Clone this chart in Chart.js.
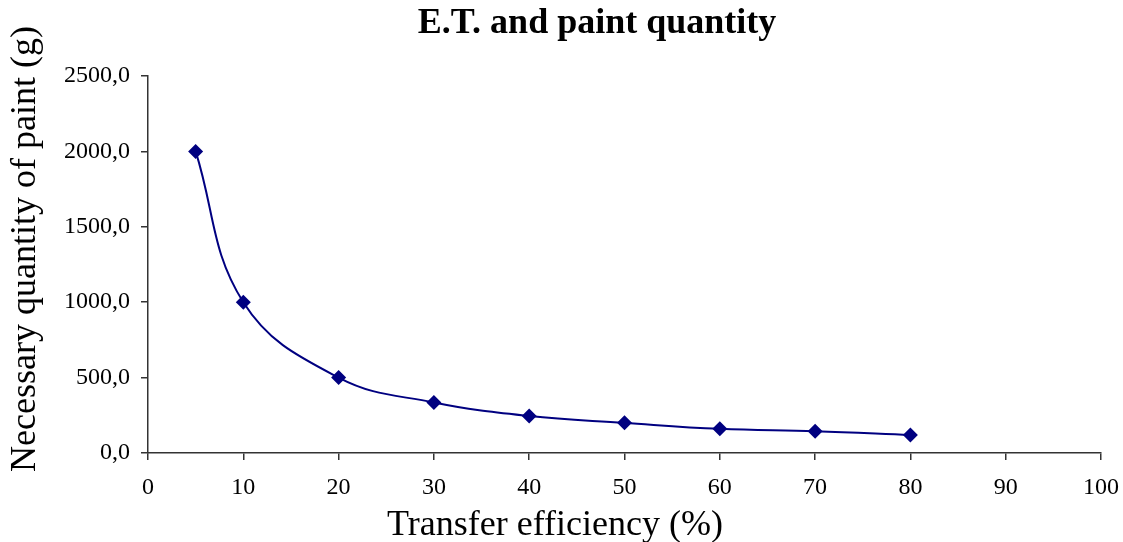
<!DOCTYPE html>
<html>
<head>
<meta charset="utf-8">
<script src="https://cdn.jsdelivr.net/npm/chart.js@4/dist/chart.umd.min.js"></script>
<style>
  html, body { margin: 0; padding: 0; background: #fff; }
  #wrap { width: 1123px; height: 542px; position: relative; }
</style>
</head>
<body>
<div id="wrap"><canvas id="c" width="1123" height="542"></canvas></div>
<script>
const chartTitle = "E.T. and paint quantity";
const xTitle = "Transfer efficiency (%)";
const yTitle = "Necessary quantity of paint (g)";
const efficiency = [5, 10, 20, 30, 40, 50, 60, 70, 80];
const paintQuantity = [2000, 1000, 500, 335, 245, 200, 160, 145, 120];
const yTicks = [0, 500, 1000, 1500, 2000, 2500];
const xTicks = [0, 10, 20, 30, 40, 50, 60, 70, 80, 90, 100];

const serif = "'Liberation Serif', 'Times New Roman', serif";
const axisColor = '#333333';
const navy = '#000080';

const customText = {
  id: 'customText',
  afterDraw(chart) {
    const ctx = chart.ctx;
    ctx.save();
    ctx.fillStyle = '#000';
    ctx.textAlign = 'center';
    ctx.textBaseline = 'alphabetic';
    ctx.font = 'bold 36px ' + serif;
    ctx.fillText(chartTitle, 597, 33);
    ctx.font = '36px ' + serif;
    ctx.fillText(xTitle, 555, 535);
    ctx.translate(35, 249);
    ctx.rotate(-Math.PI / 2);
    ctx.fillText(yTitle, 0, 0);
    ctx.restore();
  }
};

new Chart(document.getElementById('c'), {
  type: 'scatter',
  data: {
    datasets: [{
      label: yTitle,
      data: efficiency.map((x, i) => ({ x: x, y: paintQuantity[i] })),
      showLine: true,
      borderColor: navy,
      backgroundColor: navy,
      borderWidth: 2,
      tension: 0.4,
      pointStyle: 'rectRot',
      pointRadius: 7.5,
      pointHoverRadius: 7.5,
      pointBorderWidth: 0
    }]
  },
  options: {
    responsive: false,
    animation: false,
    devicePixelRatio: 1,
    layout: { padding: { top: 76, right: 22, left: 0, bottom: 0 } },
    plugins: {
      legend: { display: false },
      tooltip: { enabled: false },
      title: { display: false }
    },
    scales: {
      x: {
        type: 'linear',
        min: 0, max: 100,
        afterBuildTicks: (s) => { s.ticks = xTicks.map(v => ({ value: v })); },
        afterFit: (s) => { s.height = 89; s.paddingLeft = 0; s.paddingRight = 0; },
        border: { color: axisColor, width: 1.5 },
        grid: { display: true, drawOnChartArea: false, tickLength: 7, color: axisColor, lineWidth: 1.5 },
        ticks: { color: '#000', padding: 13, font: { family: serif, size: 24 }, maxRotation: 0 }
      },
      y: {
        type: 'linear',
        min: 0, max: 2500,
        afterBuildTicks: (s) => { s.ticks = yTicks.map(v => ({ value: v })); },
        afterFit: (s) => { s.width = 148; s.paddingTop = 0; s.paddingBottom = 0; },
        border: { color: axisColor, width: 1.5 },
        grid: { display: true, drawOnChartArea: false, tickLength: 7, color: axisColor, lineWidth: 1.5 },
        ticks: { color: '#000', padding: 11, font: { family: serif, size: 24 },
                 callback: (v) => v.toFixed(1).replace('.', ',') }
      }
    }
  },
  plugins: [customText]
});
</script>
</body>
</html>
